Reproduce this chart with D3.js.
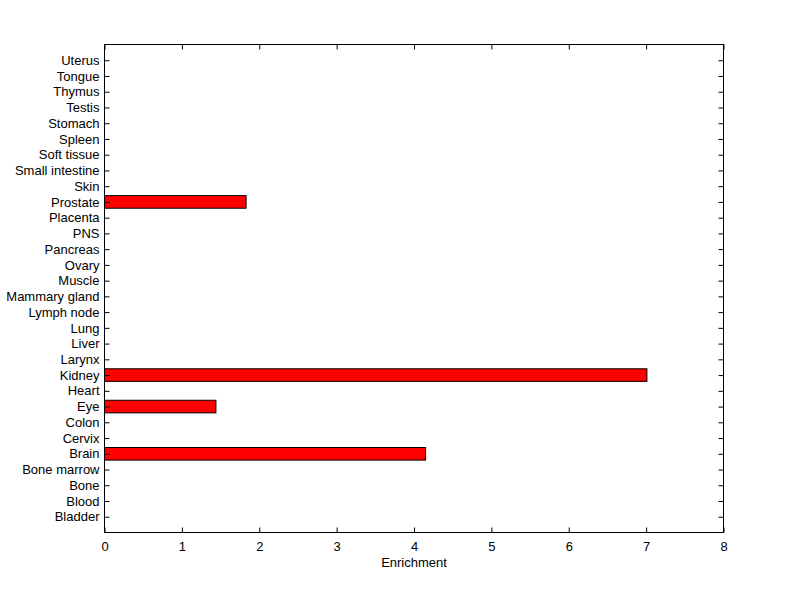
<!DOCTYPE html>
<html><head><meta charset="utf-8">
<script src="https://cdn.jsdelivr.net/npm/d3@7"></script>
<style>body{margin:0;background:#fff}svg{display:block}</style>
</head><body>
<svg id="chart" width="800" height="599"></svg>
<script>
const categories = ["Bladder","Blood","Bone","Bone marrow","Brain","Cervix","Colon","Eye","Heart","Kidney","Larynx","Liver","Lung","Lymph node","Mammary gland","Muscle","Ovary","Pancreas","PNS","Placenta","Prostate","Skin","Small intestine","Soft tissue","Spleen","Stomach","Testis","Thymus","Tongue","Uterus"];
const values = [0,0,0,0,4.15,0,0,1.44,0,7.01,0,0,0,0,0,0,0,0,0,0,1.83,0,0,0,0,0,0,0,0,0];
const xTicks = [0,1,2,3,4,5,6,7,8];
const xLabel = "Enrichment";

const svg = d3.select("#chart");
const L = 104.5, R = 723.5, T = 44.5, B = 532.5;
const x = d3.scaleLinear().domain([0,8]).range([L,R]);
const y = d3.scaleLinear().domain([0,31]).range([B,T]);
const font = "'Liberation Sans', Arial, Helvetica, sans-serif";
const tl = 5;

// bars
const bw = 0.8;
svg.append("g").selectAll("rect").data(values.map((v,i)=>({v,i}))).join("rect")
  .filter(d=>d.v>0)
  .attr("x", x(0))
  .attr("y", d=>y(d.i+1+bw/2))
  .attr("width", d=>x(d.v)-x(0))
  .attr("height", d=>y(d.i+1-bw/2)-y(d.i+1+bw/2))
  .attr("fill","#ff0000").attr("stroke","#000").attr("stroke-width",1);

// box
svg.append("rect").attr("x",L).attr("y",T).attr("width",R-L).attr("height",B-T)
  .attr("fill","none").attr("stroke","#000").attr("stroke-width",1);

// x axis
const xa = d3.axisBottom(x).tickValues(xTicks).tickSize(-tl).tickPadding(9).tickFormat(d3.format("d"));
const gx = svg.append("g").attr("transform",`translate(0,${B})`).call(xa);
gx.select(".domain").remove();
gx.selectAll("line").attr("stroke","#000");
gx.selectAll("text").attr("font-family",font).attr("font-size",13).attr("fill","#000");
const xt = d3.axisTop(x).tickValues(xTicks).tickSize(-tl).tickFormat("");
const gxt = svg.append("g").attr("transform",`translate(0,${T})`).call(xt);
gxt.select(".domain").remove(); gxt.selectAll("line").attr("stroke","#000");

// y axis
const ya = d3.axisLeft(y).tickValues(d3.range(1,31)).tickSize(-tl).tickPadding(5)
  .tickFormat(d=>categories[d-1]);
const gy = svg.append("g").attr("transform",`translate(${L},0)`).call(ya);
gy.select(".domain").remove();
gy.selectAll("line").attr("stroke","#000");
gy.selectAll("text").attr("font-family",font).attr("font-size",13).attr("fill","#000");
const yr = d3.axisRight(y).tickValues(d3.range(1,31)).tickSize(-tl).tickFormat("");
const gyr = svg.append("g").attr("transform",`translate(${R},0)`).call(yr);
gyr.select(".domain").remove(); gyr.selectAll("line").attr("stroke","#000");

svg.append("text").attr("x",(L+R)/2).attr("y",567).attr("text-anchor","middle")
  .attr("font-family",font).attr("font-size",13).text(xLabel);
</script>
</body></html>
